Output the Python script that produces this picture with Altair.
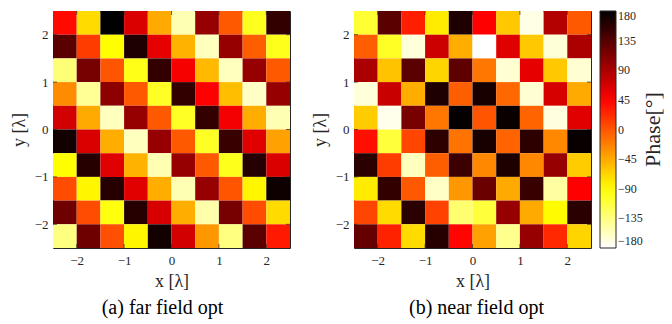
import altair as alt
import pandas as pd

# cell centres (in wavelengths)
x_centers = [-2.25, -1.75, -1.25, -0.75, -0.25, 0.25, 0.75, 1.25, 1.75, 2.25]
y_centers = [2.25, 1.75, 1.25, 0.75, 0.25, -0.25, -0.75, -1.25, -1.75, -2.25]  # rows top -> bottom
tick_values = [-2, -1, 0, 1, 2]
cbar_ticks = [-180, -135, -90, -45, 0, 45, 90, 135, 180]
cbar_title = ["Phase[°]"]

# phase (degrees), rows from top to bottom
phase_far = [
    [40, -71, 180, 64, -45, -153, 100, -2, -101, 153],
    [132, 13, -90, 164, 58, -50, -157, 100, -5, -100],
    [-132, 117, 0, -98, 153, 50, -53, -157, 100, -2],
    [-29, -143, 106, -2, -103, 153, 45, -56, -160, 100],
    [69, -45, -157, 100, -2, -103, 153, 51, -47, -153],
    [170, 64, -47, -157, 100, -2, -103, 150, 61, -40],
    [-90, 160, 61, -50, -153, 100, -2, -100, 160, 64],
    [5, -85, 160, 61, -47, -153, 100, 0, -85, 172],
    [122, 5, -95, 160, 66, -47, -150, 117, 5, -71],
    [-135, 122, 3, -85, 170, 69, -35, -135, 132, 32],
]
phase_near = [
    [-108, 132, 29, -80, 164, 45, -61, -171, 85, -2],
    [-5, -103, -167, 72, -47, -180, 61, -61, -166, 90],
    [90, -58, 132, -68, 130, -18, -164, 58, -61, -164],
    [-167, 74, -47, 164, -5, 167, -10, -164, 66, -45],
    [-63, -173, 117, -18, 178, 0, 175, -8, -169, 61],
    [37, -111, 8, 156, -16, 167, -8, 156, -27, 176],
    [158, 13, -157, -5, 148, -27, 164, -27, 100, -63],
    [-80, 153, -2, -160, -35, 124, -45, 150, -147, 45],
    [8, -71, 158, 10, -129, -111, 100, -45, -88, 158],
    [127, 27, -71, 160, 43, -40, -140, 100, 24, -68],
]

FONT = "Liberation Serif"
INK = "#262626"
W, H = 237, 237

cscale = alt.Scale(domain=[-180, -90, 45, 180],
                   range=["#ffffff", "#ffff00", "#ff0000", "#000000"],
                   interpolate="rgb")
xscale = alt.Scale(domain=[-2.5, 2.5], nice=False, zero=False)
yscale = alt.Scale(domain=[-2.5, 2.5], nice=False, zero=False)
x_axis = alt.Axis(values=tick_values, title="x [λ]", format="d",
                  labelPadding=6, titlePadding=5)
y_axis = alt.Axis(values=tick_values, title="y [λ]", format="d",
                  labelPadding=5, titlePadding=6)


def panel(values, subtitle, dx, with_cbar_title=False):
    df = pd.DataFrame([
        {"x": x, "y": y, "phase": values[i][j]}
        for i, y in enumerate(y_centers)
        for j, x in enumerate(x_centers)
    ])
    heat = alt.Chart(df).transform_calculate(
        x0="datum.x - 0.25", x1="datum.x + 0.25",
        y0="datum.y - 0.25", y1="datum.y + 0.25",
    ).mark_rect(strokeWidth=0).encode(
        x=alt.X("x0:Q", scale=xscale, axis=x_axis),
        x2="x1:Q",
        y=alt.Y("y0:Q", scale=yscale, axis=y_axis),
        y2="y1:Q",
        color=alt.Color("phase:Q", scale=cscale,
                        legend=alt.Legend(values=cbar_ticks, title=None)),
    )
    tdf = pd.DataFrame({"t": tick_values})
    base = alt.Chart(tdf).mark_tick(color=INK, thickness=1, size=4)
    bottom = base.encode(x=alt.X("t:Q", scale=xscale, axis=x_axis), y=alt.value(H - 2))
    top = base.encode(x=alt.X("t:Q", scale=xscale, axis=x_axis), y=alt.value(2))
    left = base.encode(y=alt.Y("t:Q", scale=yscale, axis=y_axis), x=alt.value(2))
    right = base.encode(y=alt.Y("t:Q", scale=yscale, axis=y_axis), x=alt.value(W - 2))
    layers = [heat, bottom, top, left, right]
    if with_cbar_title:
        ctitle = alt.Chart(pd.DataFrame({"label": cbar_title})).mark_text(
            font=FONT, fontSize=22, color=INK, angle=270,
            align="center", baseline="middle",
        ).encode(text="label:N", x=alt.value(W + 62), y=alt.value(H / 2))
        layers.append(ctitle)
    return alt.layer(*layers).properties(
        width=W, height=H,
        title=alt.TitleParams(subtitle, orient="bottom", font=FONT, fontSize=20,
                              fontWeight="normal", color="#000000", dx=dx, offset=8),
    )


pa = panel(phase_far, "(a) far field opt", -9)
pb = panel(phase_near, "(b) near field opt", 4, with_cbar_title=True)

chart = alt.hconcat(pa, pb, spacing=64, bounds="flush").resolve_scale(
    color="shared"
).properties(
    padding={"left": 9, "top": 10, "right": 2, "bottom": 2}
).configure_view(
    stroke=INK, strokeWidth=1
).configure_axis(
    labelFont=FONT, labelFontSize=13, labelColor=INK,
    titleFont=FONT, titleFontSize=18, titleFontWeight="normal", titleColor=INK,
    domain=False, ticks=False, tickSize=0, grid=False,
).configure_legend(
    orient="none", legendX=547, legendY=0,
    gradientLength=237, gradientThickness=16,
    gradientStrokeColor=INK, gradientStrokeWidth=1,
    labelFont=FONT, labelFontSize=12, labelColor=INK, labelOffset=4,
    labelOverlap=False, padding=0,
)

chart.save("out.html", embed_options={"renderer": "svg", "actions": False})
